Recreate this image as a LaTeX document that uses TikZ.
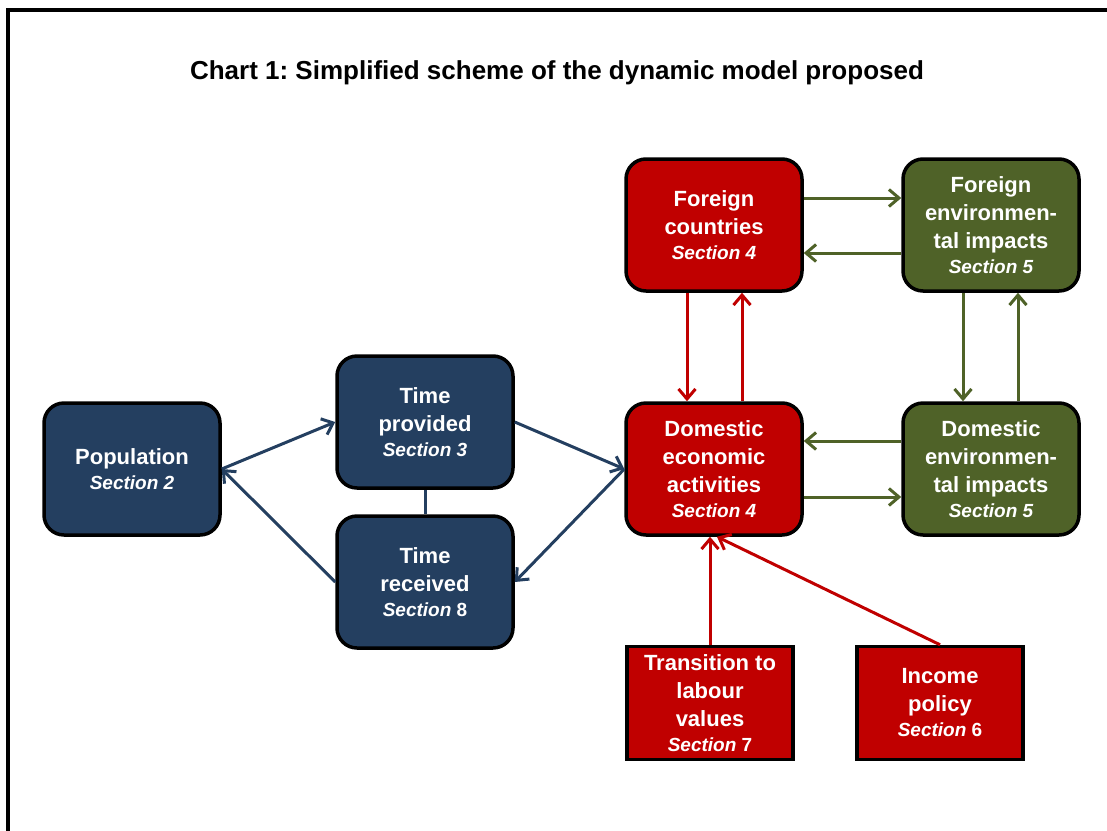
\documentclass[tikz,border=0pt]{standalone}
\usepackage{fontspec}
\setmainfont{Liberation Sans}
\usetikzlibrary{arrows.meta}

\definecolor{chartblue}{HTML}{243F60}
\definecolor{chartred}{HTML}{C00000}
\definecolor{chartgreen}{HTML}{4F6228}

\newcommand{\secfont}{\fontsize{19}{28}\selectfont}

\tikzset{
  box/.style={draw=black, line width=3.5pt, rounded corners=20pt, minimum width=176pt, minimum height=132pt,
    inner sep=0pt, align=center, text=white, font=\bfseries\fontsize{22}{28}\selectfont},
  bluebox/.style={box, fill=chartblue},
  redbox/.style={box, fill=chartred},
  greenbox/.style={box, fill=chartgreen},
  redrect/.style={box, rounded corners=0pt, fill=chartred, minimum width=166pt, minimum height=113pt},
  link/.style={line width=3pt, -{Straight Barb[length=10pt,width=17pt]}},
}

\begin{document}
\frenchspacing
\begin{tikzpicture}[x=1pt,y=-1pt]
    \clip (0,0) rectangle (1107,830);
    \useasboundingbox (0,0) rectangle (1107,830);
    \draw[line width=3.5pt] (8,10) rectangle (1140,860);
    \node[font=\bfseries\fontsize{26}{30}\selectfont] (title) at (557,73) {Chart 1: Simplified scheme of the dynamic model proposed};

    \node[bluebox] (pop) at (132,469) {Population\\[-3pt]{\secfont\itshape Section 2}};
    \node[bluebox] (tp) at (425,422) {Time\\provided\\[-3pt]{\secfont\itshape Section 3}};
    \node[bluebox] (tr) at (425,582) {Time\\received\\[-3pt]{\secfont{\itshape Section} 8}};
    \node[redbox] (dea) at (714,469) {Domestic\\economic\\activities\\[-3pt]{\secfont\itshape Section 4}};
    \node[redbox] (fc) at (714,225) {Foreign\\countries\\[-3pt]{\secfont\itshape Section 4}};
    \node[greenbox] (fei) at (991,225) {Foreign\\environmen-\\tal impacts\\[-3pt]{\secfont\itshape Section 5}};
    \node[greenbox] (dei) at (991,469) {Domestic\\environmen-\\tal impacts\\[-3pt]{\secfont\itshape Section 5}};
    \node[redrect] (tlv) at (710,703) {Transition to\\labour\\values\\[-3pt]{\secfont{\itshape Section} 7}};
    \node[redrect] (inc) at (940,703) {Income\\policy\\[-3pt]{\secfont{\itshape Section} 6}};

    \draw[link, chartblue] (pop.east) -- (tp.west);
    \draw[link, chartblue] (tr.west) -- (pop.east);
    \draw[link, chartblue] (tp.east) -- (dea.west);
    \draw[link, chartblue] (dea.west) -- (tr.east);
    \draw[line width=3pt, chartblue] (tp.south) -- (tr.north);

    \draw[link, chartred] ([xshift=-27pt]fc.south) -- ([xshift=-27pt]dea.north);
    \draw[link, chartred] ([xshift=28pt]dea.north) -- ([xshift=28pt]fc.south);
    \draw[link, chartred] (tlv.north) -- (tlv.north |- dea.south);
    \draw[link, chartred] (inc.north) -- ([xshift=3pt]dea.south);

    \draw[link, chartgreen] ([yshift=27pt]fc.east) -- ([yshift=27pt]fei.west);
    \draw[link, chartgreen] ([yshift=-28pt]fei.west) -- ([yshift=-28pt]fc.east);
    \draw[link, chartgreen] ([xshift=-28pt]fei.south) -- ([xshift=-28pt]dei.north);
    \draw[link, chartgreen] ([xshift=27pt]dei.north) -- ([xshift=27pt]fei.south);
    \draw[link, chartgreen] ([yshift=28pt]dei.west) -- ([yshift=28pt]dea.east);
    \draw[link, chartgreen] ([yshift=-28pt]dea.east) -- ([yshift=-28pt]dei.west);
  \end{tikzpicture}
\end{document}
